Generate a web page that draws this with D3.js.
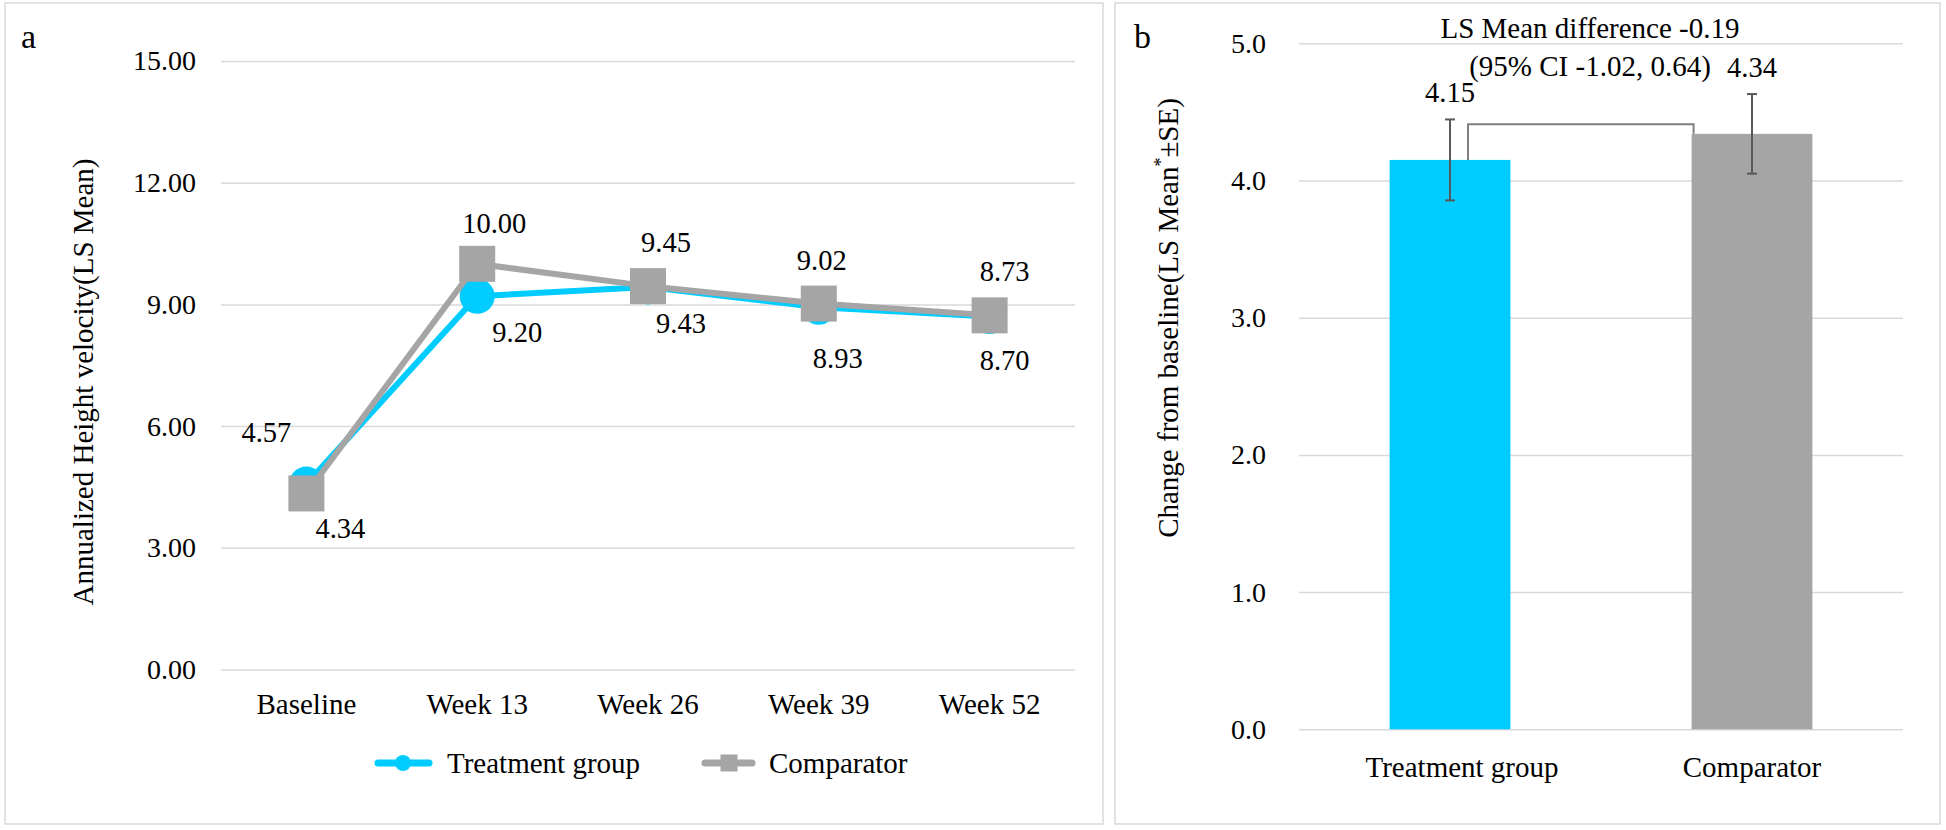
<!DOCTYPE html>
<html><head><meta charset="utf-8">
<script src="https://cdn.jsdelivr.net/npm/d3@7"></script>
<style>
body{margin:0;background:#fff}
svg text{font-family:"Liberation Serif","Times New Roman",serif;fill:#000}
</style>
</head><body><svg id="c" width="1946" height="830"></svg>
<script>
// ---------- data ----------
const categories = ["Baseline","Week 13","Week 26","Week 39","Week 52"];
const treatmentHV = [4.57,9.20,9.43,8.93,8.70];
const comparatorHV = [4.34,10.00,9.45,9.02,8.73];
const seriesNames = ["Treatment group","Comparator"];
const yTicksA = [0,3,6,9,12,15];
const barGroups = ["Treatment group","Comparator"];
const barMeans = [4.15,4.34];
const barSE = [0.295,0.29];
const yTicksB = [0,1,2,3,4,5];
const diffLines = ["LS Mean difference -0.19","(95% CI -1.02, 0.64)"];
const bracketLevel = 4.41;
// manual data-label placement (dx, dy from the point)
const treatLabelOff = [[-40,-42],[40,46],[33,46],[19,61],[15,53]];
const compLabelOff = [[34,45],[17,-31],[18,-34],[3,-34],[15,-34]];

const BLUE = "#00CCFF", GRAY = "#A5A5A5", GRID = "#d9d9d9";
const FONT = "Liberation Serif, Times New Roman, serif";
const svg = d3.select("#c");

// ---------- panel borders ----------
svg.append("rect").attr("x",5).attr("y",3).attr("width",1098).attr("height",821)
  .attr("fill","none").attr("stroke",GRID).attr("stroke-width",1.5);
svg.append("rect").attr("x",1115).attr("y",3).attr("width",825).attr("height",821)
  .attr("fill","none").attr("stroke",GRID).attr("stroke-width",1.5);

// ---------- panel a ----------
const xA = d3.scaleBand().domain(categories).range([221,1075]).padding(0);
const yA = d3.scaleLinear().domain([0,15]).range([669.5,61]);
const cxA = c => xA(c) + xA.bandwidth()/2;

svg.append("g").attr("transform","translate(221,0)")
  .call(d3.axisLeft(yA).tickValues(yTicksA).tickSize(-(1075-221)).tickFormat(""))
  .call(g=>g.select(".domain").remove())
  .call(g=>g.selectAll("line").attr("stroke",GRID).attr("stroke-width",1.5));
svg.append("g").attr("transform","translate(221,0)")
  .call(d3.axisLeft(yA).tickValues(yTicksA).tickSize(0).tickPadding(25).tickFormat(d3.format(".2f")))
  .attr("font-size",28).attr("font-family",FONT)
  .call(g=>g.select(".domain").remove())
  .call(g=>g.selectAll("text").attr("fill","#000"));
svg.append("g").attr("transform","translate(0,669.5)")
  .call(d3.axisBottom(xA).tickSize(0).tickPadding(24))
  .attr("font-size",29).attr("font-family",FONT)
  .call(g=>g.select(".domain").remove())
  .call(g=>g.selectAll("text").attr("fill","#000"));

svg.append("text").attr("transform","translate(93,382) rotate(-90)")
  .attr("text-anchor","middle").attr("font-size",29)
  .text("Annualized Height velocity(LS Mean)");
svg.append("text").attr("x",21).attr("y",48).attr("font-size",34).text("a");

const lineA = d3.line().x((d,i)=>cxA(categories[i])).y(d=>yA(d));
// treatment
svg.append("path").datum(treatmentHV).attr("d",lineA)
  .attr("fill","none").attr("stroke",BLUE).attr("stroke-width",6).attr("stroke-linejoin","round");
svg.append("g").selectAll("circle").data(treatmentHV).join("circle")
  .attr("cx",(d,i)=>cxA(categories[i])).attr("cy",d=>yA(d)).attr("r",17.5).attr("fill",BLUE);
// comparator
svg.append("path").datum(comparatorHV).attr("d",lineA)
  .attr("fill","none").attr("stroke",GRAY).attr("stroke-width",6).attr("stroke-linejoin","round");
svg.append("g").selectAll("rect").data(comparatorHV).join("rect")
  .attr("x",(d,i)=>cxA(categories[i])-18).attr("y",d=>yA(d)-18)
  .attr("width",36).attr("height",36).attr("fill",GRAY);

// data labels
svg.append("g").selectAll("text").data(treatmentHV).join("text")
  .attr("x",(d,i)=>cxA(categories[i])+treatLabelOff[i][0])
  .attr("y",(d,i)=>yA(d)+treatLabelOff[i][1])
  .attr("text-anchor","middle").attr("font-size",28.5).text(d=>d3.format(".2f")(d));
svg.append("g").selectAll("text").data(comparatorHV).join("text")
  .attr("x",(d,i)=>cxA(categories[i])+compLabelOff[i][0])
  .attr("y",(d,i)=>yA(d)+compLabelOff[i][1])
  .attr("text-anchor","middle").attr("font-size",28.5).text(d=>d3.format(".2f")(d));

// legend
const lg = svg.append("g");
lg.append("line").attr("x1",378).attr("x2",429).attr("y1",763).attr("y2",763)
  .attr("stroke",BLUE).attr("stroke-width",7).attr("stroke-linecap","round");
lg.append("circle").attr("cx",403).attr("cy",763).attr("r",8).attr("fill",BLUE);
lg.append("text").attr("x",447).attr("y",773).attr("font-size",29).text(seriesNames[0]);
lg.append("line").attr("x1",705).attr("x2",752).attr("y1",763).attr("y2",763)
  .attr("stroke",GRAY).attr("stroke-width",7).attr("stroke-linecap","round");
lg.append("rect").attr("x",720.5).attr("y",754.5).attr("width",17).attr("height",17).attr("fill",GRAY);
lg.append("text").attr("x",769).attr("y",773).attr("font-size",29).text(seriesNames[1]);

// ---------- panel b ----------
const xB = d3.scaleBand().domain(barGroups).range([1299,1903]).padding(0);
const yB = d3.scaleLinear().domain([0,5]).range([729.3,43.3]);
const barW = xB.bandwidth()*0.4;
const cxB = c => xB(c) + xB.bandwidth()/2;

svg.append("g").attr("transform","translate(1299,0)")
  .call(d3.axisLeft(yB).tickValues(yTicksB).tickSize(-(1903-1299)).tickFormat(""))
  .call(g=>g.select(".domain").remove())
  .call(g=>g.selectAll("line").attr("stroke",GRID).attr("stroke-width",1.5));
svg.append("g").attr("transform","translate(1299,0)")
  .call(d3.axisLeft(yB).tickValues(yTicksB).tickSize(0).tickPadding(33).tickFormat(d3.format(".1f")))
  .attr("font-size",28).attr("font-family",FONT)
  .call(g=>g.select(".domain").remove())
  .call(g=>g.selectAll("text").attr("fill","#000"));
svg.append("g").attr("transform","translate(0,729.3)")
  .call(d3.axisBottom(xB).tickSize(0).tickPadding(27))
  .attr("font-size",29).attr("font-family",FONT)
  .call(g=>g.select(".domain").remove())
  .call(g=>g.selectAll("text").attr("fill","#000").attr("dx",(d,i)=>i===0?12:0));

const tB = svg.append("text").attr("transform","translate(1178,318) rotate(-90)")
  .attr("text-anchor","middle").attr("font-size",29);
tB.append("tspan").text("Change from baseline(LS Mean");
tB.append("tspan").attr("font-size",18).attr("dy",-11).text("*");
tB.append("tspan").attr("dy",11).text("±SE)");
svg.append("text").attr("x",1134).attr("y",48).attr("font-size",34).text("b");

svg.append("g").selectAll("rect").data(barMeans).join("rect")
  .attr("x",(d,i)=>cxB(barGroups[i])-barW/2).attr("y",d=>yB(d))
  .attr("width",barW).attr("height",d=>yB(0)-yB(d))
  .attr("fill",(d,i)=>i===0?BLUE:GRAY);

// error bars
const eb = svg.append("g").attr("stroke","#595959").attr("stroke-width",2);
barMeans.forEach((m,i)=>{
  const cx = cxB(barGroups[i]);
  eb.append("line").attr("x1",cx).attr("x2",cx).attr("y1",yB(m-barSE[i])).attr("y2",yB(m+barSE[i]));
  eb.append("line").attr("x1",cx-5).attr("x2",cx+5).attr("y1",yB(m-barSE[i])).attr("y2",yB(m-barSE[i]));
  eb.append("line").attr("x1",cx-5).attr("x2",cx+5).attr("y1",yB(m+barSE[i])).attr("y2",yB(m+barSE[i]));
});
svg.append("g").selectAll("text").data(barMeans).join("text")
  .attr("x",(d,i)=>cxB(barGroups[i])).attr("y",(d,i)=>yB(d+barSE[i])-17)
  .attr("text-anchor","middle").attr("font-size",28.5).text(d=>d3.format(".2f")(d));

// bracket
const bx0 = cxB(barGroups[0]) + 18, bx1 = cxB(barGroups[1]) - barW/2 + 2;
svg.append("path")
  .attr("d",`M${bx0},${yB(barMeans[0])}V${yB(bracketLevel)}H${bx1}V${yB(barMeans[1])}`)
  .attr("fill","none").attr("stroke","#7f7f7f").attr("stroke-width",2);
const midX = (cxB(barGroups[0])+cxB(barGroups[1]))/2 - 11;
svg.append("g").selectAll("text").data(diffLines).join("text")
  .attr("x",midX).attr("y",(d,i)=>yB(5)-5+i*38)
  .attr("text-anchor","middle").attr("font-size",29).text(d=>d);
</script>
</body></html>
